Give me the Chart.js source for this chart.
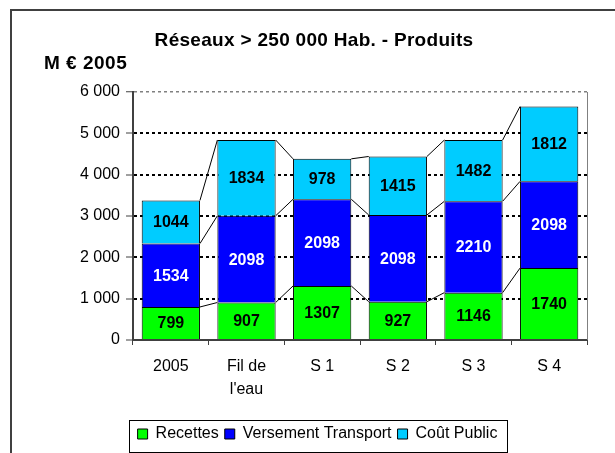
<!DOCTYPE html>
<html>
<head>
<meta charset="utf-8">
<script src="https://cdn.jsdelivr.net/npm/chart.js@4"></script>
<style>
  body { margin: 0; background: #fff; }
  canvas { display: block; }
</style>
</head>
<body>
<canvas id="chart" width="615" height="453"></canvas>
<script>
// Data
const categories = ['2005', ['Fil de', "l'eau"], 'S 1', 'S 2', 'S 3', 'S 4'];
const recettes = [799, 907, 1307, 927, 1146, 1740];
const versementTransport = [1534, 2098, 2098, 2098, 2210, 2098];
const coutPublic = [1044, 1834, 978, 1415, 1482, 1812];
const yTicks = [0, 1000, 2000, 3000, 4000, 5000, 6000];

const titleText = 'Réseaux > 250 000 Hab. - Produits';
const unitText = 'M € 2005';

const FONT = 'Arial, "Liberation Sans", sans-serif';

function formatThousands(v) {
    return String(v).replace(/\B(?=(\d{3})+(?!\d))/g, ' ');
}

// frame, title, unit label, legend box
const decorPlugin = {
    id: 'decor',
    beforeDraw(chart) {
        const ctx = chart.ctx;
        ctx.save();
        ctx.fillStyle = '#fff';
        ctx.fillRect(0, 0, chart.width, chart.height);
        ctx.strokeStyle = '#404040';
        ctx.lineWidth = 2;
        ctx.strokeRect(11, 10, 700, 600);

        ctx.fillStyle = '#000';
        ctx.textBaseline = 'middle';
        ctx.font = 'bold 19px ' + FONT;
        ctx.letterSpacing = '0.3px';
        ctx.textAlign = 'center';
        ctx.fillText(titleText, 314, 41);

        ctx.font = 'bold 19px ' + FONT;
        ctx.letterSpacing = '0.5px';
        ctx.textAlign = 'left';
        ctx.fillText(unitText, 44, 64);
        ctx.restore();
    },
    afterDraw(chart) {
        const ctx = chart.ctx;
        const area = chart.chartArea;
        ctx.save();
        // plot area right border
        ctx.strokeStyle = '#808080';
        ctx.lineWidth = 1;
        ctx.beginPath();
        ctx.moveTo(area.right + 0.5, area.top);
        ctx.lineTo(area.right + 0.5, area.bottom);
        ctx.stroke();
        // legend frame
        const boxes = chart.legend.legendHitBoxes;
        if (boxes && boxes.length) {
            const left = Math.min(...boxes.map(b => b.left)) - 9;
            const right = Math.max(...boxes.map(b => b.left + b.width)) + 9;
            const top = chart.legend.top;
            const bottom = chart.legend.bottom;
            ctx.strokeStyle = '#000';
            ctx.strokeRect(Math.round(left) + 0.5, Math.round(top) + 0.5, Math.round(right - left), Math.round(bottom - top));
        }
        ctx.restore();
    }
};

// series lines and value labels
const barExtrasPlugin = {
    id: 'barExtras',
    afterDatasetsDraw(chart) {
        const ctx = chart.ctx;
        ctx.save();
        ctx.strokeStyle = '#000';
        ctx.lineWidth = 1;
        chart.data.datasets.forEach((ds, d) => {
            const meta = chart.getDatasetMeta(d);
            for (let i = 0; i < meta.data.length - 1; i++) {
                const a = meta.data[i];
                const b = meta.data[i + 1];
                ctx.beginPath();
                ctx.moveTo(a.x + a.width / 2, a.y);
                ctx.lineTo(b.x - b.width / 2, b.y);
                ctx.stroke();
            }
        });
        ctx.font = 'bold 16px ' + FONT;
        ctx.textAlign = 'center';
        ctx.textBaseline = 'middle';
        chart.data.datasets.forEach((ds, d) => {
            const meta = chart.getDatasetMeta(d);
            ctx.fillStyle = ds.labelColor;
            meta.data.forEach((el, i) => {
                ctx.fillText(String(ds.data[i]), el.x, (el.y + el.base) / 2 + 1);
            });
        });
        ctx.restore();
    }
};

new Chart(document.getElementById('chart'), {
    type: 'bar',
    data: {
        labels: categories,
        datasets: [{
            label: 'Recettes',
            data: recettes,
            backgroundColor: '#00ff00',
            borderColor: '#000',
            borderWidth: 1,
            labelColor: '#000'
        }, {
            label: 'Versement Transport',
            data: versementTransport,
            backgroundColor: '#0000ff',
            borderColor: '#000',
            borderWidth: 1,
            labelColor: '#fff'
        }, {
            label: 'Coût Public',
            data: coutPublic,
            backgroundColor: '#00ccff',
            borderColor: '#000',
            borderWidth: 1,
            labelColor: '#000'
        }]
    },
    options: {
        responsive: false,
        animation: false,
        layout: { padding: { left: 48, right: 28, top: 92, bottom: 1 } },
        datasets: {
            bar: { barPercentage: 0.77, categoryPercentage: 1 }
        },
        plugins: {
            title: { display: false },
            legend: {
                position: 'bottom',
                labels: {
                    color: '#000',
                    font: { family: FONT, size: 16 },
                    boxWidth: 10,
                    boxHeight: 10,
                    padding: 6
                }
            },
            tooltip: { enabled: false }
        },
        scales: {
            x: {
                stacked: true,
                afterFit(scale) { scale.height = 80; },
                grid: {
                    offset: true,
                    drawOnChartArea: false,
                    tickLength: 5,
                    tickColor: '#404040'
                },
                border: { color: '#404040', width: 2 },
                ticks: {
                    color: '#000',
                    padding: 10,
                    font: { family: FONT, size: 16, lineHeight: 1.45 },
                    maxRotation: 0
                }
            },
            y: {
                stacked: true,
                min: 0,
                max: 6000,
                afterFit(scale) { scale.width = 85; },
                afterBuildTicks(scale) {
                    scale.ticks = yTicks.map(v => ({ value: v }));
                },
                grid: {
                    color: c => c.tick.value === 0 ? 'rgba(0,0,0,0)' : (c.tick.value === 6000 ? '#808080' : '#000'),
                    lineWidth: c => c.tick.value === 6000 ? 1.5 : 2,
                    tickLength: 7,
                    tickColor: '#404040',
                    tickWidth: 1,
                    tickBorderDash: []
                },
                border: { color: '#404040', width: 2, dash: [3, 3] },
                ticks: {
                    color: '#000',
                    padding: 6,
                    font: { family: FONT, size: 16 },
                    callback: v => formatThousands(v)
                }
            }
        }
    },
    plugins: [decorPlugin, barExtrasPlugin]
});
</script>
</body>
</html>
